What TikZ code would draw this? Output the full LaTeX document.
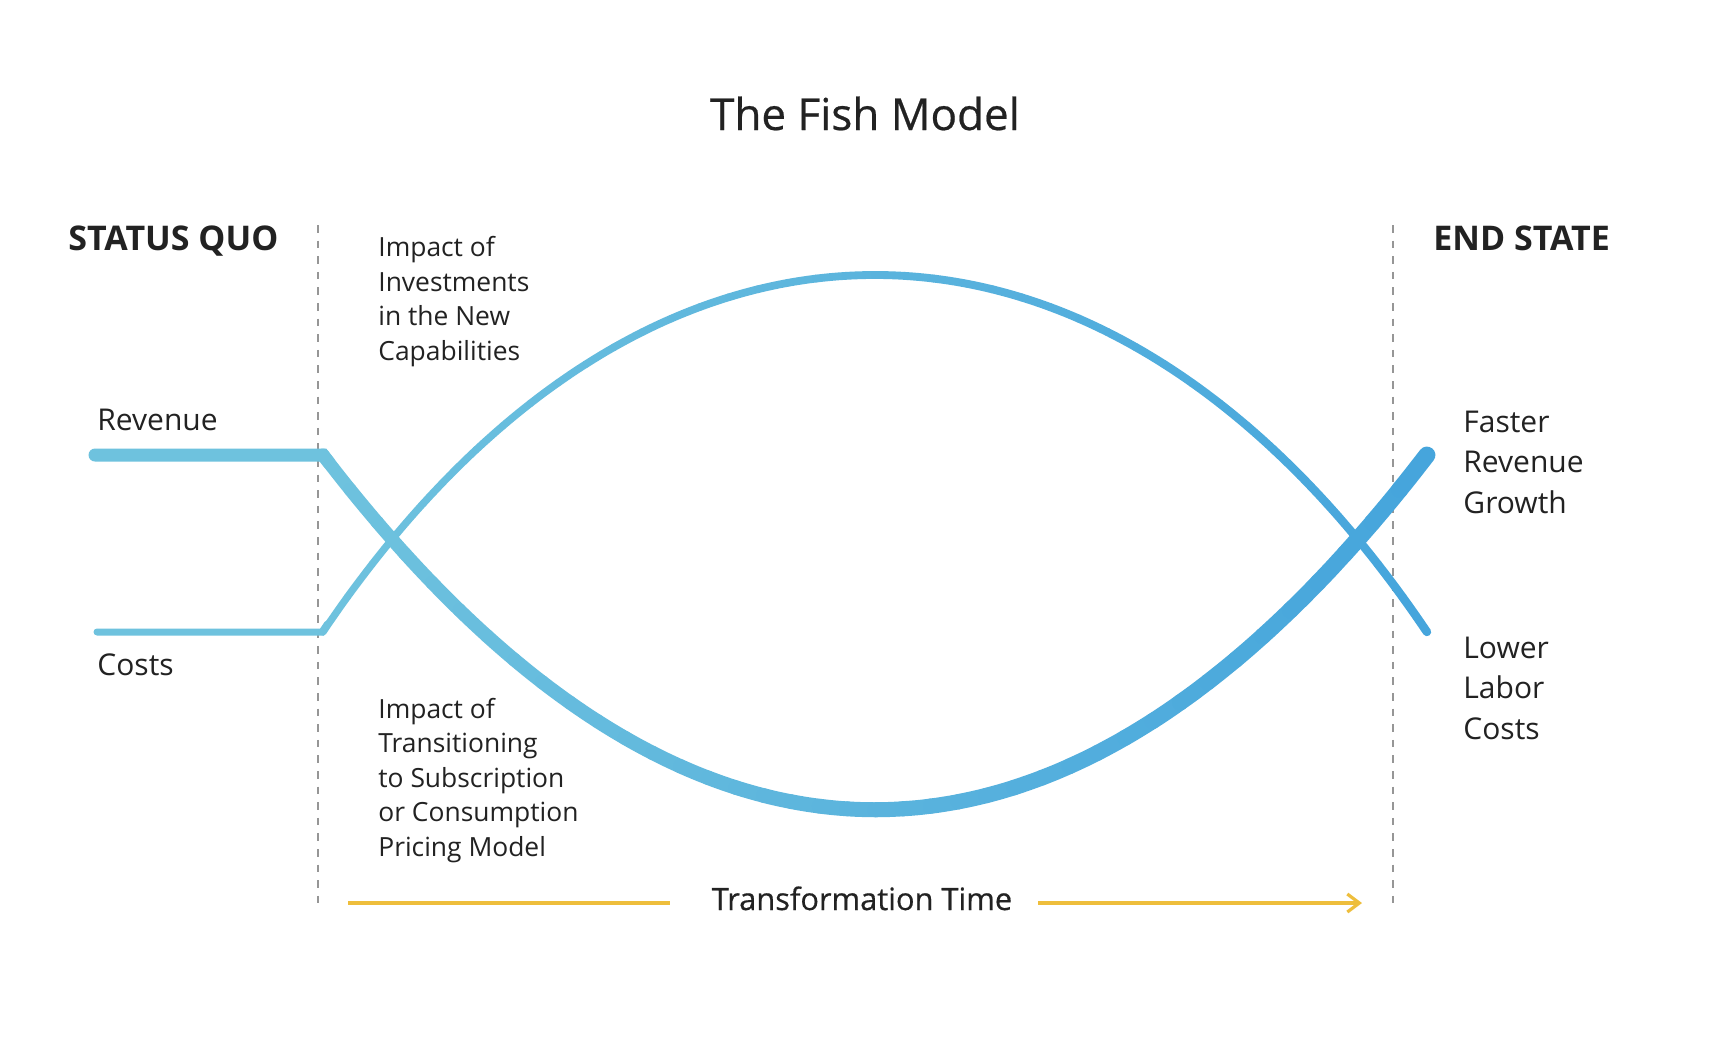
\documentclass[tikz,border=0pt]{standalone}
\usepackage{fontspec}
\setmainfont{Open Sans}
\newfontfamily\semib[FakeBold=0.5]{Open Sans}
\usetikzlibrary{arrows.meta}
\definecolor{lblue}{RGB}{110,194,222}
\definecolor{dblue}{RGB}{70,165,220}
\definecolor{gold}{RGB}{238,190,60}
\definecolor{txt}{RGB}{34,34,34}
\definecolor{dashgray}{RGB}{150,150,150}
\begin{document}
\begin{tikzpicture}[x=0.5pt,y=-0.5pt,
  lbl/.style={anchor=base west, inner sep=0pt, text=txt, align=left, font=\fontsize{15}{20.25}\selectfont},
  note/.style={anchor=base west, inner sep=0pt, text=txt, align=left, font=\fontsize{13.2}{17.2}\selectfont},
  head/.style={anchor=base west, inner sep=0pt, text=txt, font=\fontsize{17}{20}\selectfont\bfseries},
  divider/.style={dashgray, line width=0.8pt, dash pattern=on 3.8pt off 4pt},
  timeline/.style={gold, line width=1.6pt},
  flatline/.style={line cap=round, line join=miter}
]
\useasboundingbox[fill=white] (0,0) rectangle (1710,1040);

% title
\node[anchor=base, inner sep=0pt, text=txt, font=\fontsize{22}{26}\selectfont\semib] (title) at (865,130) {The Fish Model};

% headings
\node[head] (sq) at (68,250) {STATUS QUO};
\node[head] (es) at (1433,250) {END STATE};

% dividers
\coordinate (dlt) at (318,225); \coordinate (dlb) at (318,905);
\coordinate (drt) at (1393,225); \coordinate (drb) at (1393,905);
\draw[divider] (dlt) -- (dlb);
\draw[divider] (drt) -- (drb);

% thin curve (costs)
\draw[flatline, lblue, line width=3.5pt] (97,632) -- (322,632) -- (327.5,623.9);
\foreach \k in {0,...,39}{
  \pgfmathsetmacro\ta{\k/40}
  \pgfmathsetmacro\tb{(\k+1)/40}
  \pgfmathtruncatemacro\m{100*\k/39}
  \pgfmathsetmacro\w{(7.2+1.3*\k/39)*0.5}
  \draw[line width=\w pt, dblue!\m!lblue, line cap=round, domain=\ta:\tb, samples=5, variable=\t]
    plot ({(1-\t)^3*323+3*(1-\t)^2*\t*644+3*(1-\t)*\t^2*1106+\t^3*1427},
          {(1-\t)^3*632+3*(1-\t)^2*\t*156+3*(1-\t)*\t^2*156+\t^3*632});
}

% thick curve (revenue)
\draw[flatline, lblue, line width=6.5pt] (95,455) -- (323,455) -- (329.1,462.9);
\foreach \k in {0,...,39}{
  \pgfmathsetmacro\ta{\k/40}
  \pgfmathsetmacro\tb{(\k+1)/40}
  \pgfmathtruncatemacro\m{100*\k/39}
  \pgfmathsetmacro\w{(13+4*\k/39)*0.5}
  \draw[line width=\w pt, dblue!\m!lblue, line cap=round, domain=\ta:\tb, samples=5, variable=\t]
    plot ({(1-\t)^3*323+3*(1-\t)^2*\t*685+3*(1-\t)*\t^2*1065+\t^3*1427},
          {(1-\t)^3*455+3*(1-\t)^2*\t*928+3*(1-\t)*\t^2*928+\t^3*455});
}

% left labels
\node[lbl] (rev) at (97,430) {Revenue};
\node[lbl] (cost) at (97,675) {Costs};

% notes (base anchor = baseline of last line)
\node[note] (inv) at (378,360) {Impact of\\Investments\\in the New\\Capabilities};
\node[note] (trans) at (378,856) {Impact of\\Transitioning\\to Subscription\\or Consumption\\Pricing Model};

% right labels
\node[lbl] (frg) at (1463,513) {Faster\\Revenue\\Growth};
\node[lbl] (llc) at (1463,739) {Lower\\Labor\\Costs};

% timeline
\node[anchor=base, inner sep=0pt, text=txt, font=\fontsize{15.4}{18}\selectfont\semib] (tt) at (862,910) {Transformation Time};
\coordinate (ta) at (348,903); \coordinate (tb) at (670,903);
\coordinate (tc) at (1038,903); \coordinate (td) at (1362,903);
\draw[timeline] (ta) -- (tb);
\draw[timeline, -{Straight Barb[length=6pt,width=9pt]}] (tc) -- (td);
\end{tikzpicture}
\end{document}
